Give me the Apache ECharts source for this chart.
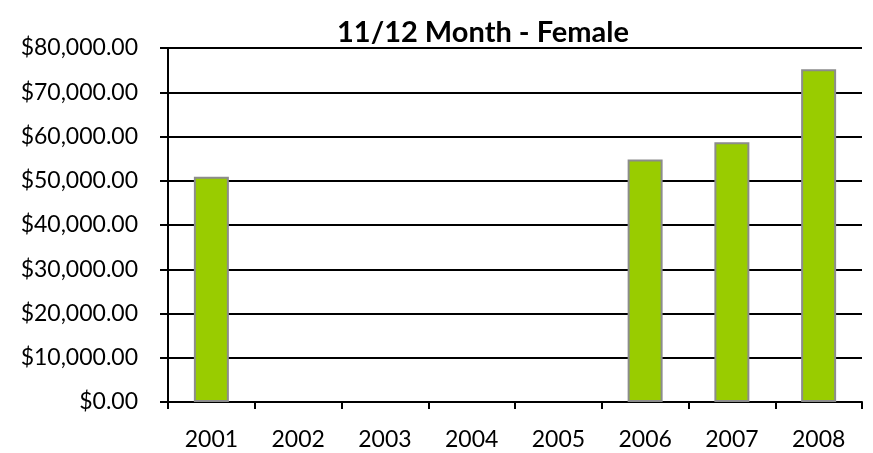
<!DOCTYPE html>
<html>
<head>
<meta charset="utf-8">
<script src="https://cdn.jsdelivr.net/npm/echarts@6/dist/echarts.min.js"></script>
<style>
  html, body { margin: 0; padding: 0; background: #fff; }
  #chart { width: 873px; height: 453px; }
</style>
</head>
<body>
<div id="chart"></div>
<script>
// values
var years = ['2001', '2002', '2003', '2004', '2005', '2006', '2007', '2008'];
var salaries = [50900, null, null, null, null, 54800, 58700, 75200];
var yMax = 80000;
var yStep = 10000;

var fontFamily = 'Lato, "Open Sans", sans-serif';

function money(v) {
	return '$' + v.toLocaleString('en-US', {minimumFractionDigits: 2, maximumFractionDigits: 2});
}

var chart = echarts.init(document.getElementById('chart'));
var option = {
	animation: false,
	title: {
		text: '11/12 Month - Female',
		left: 478,
		textAlign: 'center',
		top: 13,
		textStyle: {
			fontFamily: fontFamily,
			fontSize: 29,
			fontWeight: 'bold',
			color: '#000'
		}
	},
	grid: {
		left: 168,
		right: 11,
		top: 48,
		bottom: 51
	},
	xAxis: {
		type: 'category',
		data: years,
		axisLine: {lineStyle: {color: '#000', width: 2}},
		axisTick: {show: true, length: 7, lineStyle: {color: '#000', width: 2}},
		axisLabel: {
			margin: 26,
			fontFamily: fontFamily,
			fontSize: 23,
			color: '#000'
		}
	},
	yAxis: {
		type: 'value',
		min: 0,
		max: yMax,
		interval: yStep,
		axisLine: {show: true, lineStyle: {color: '#000', width: 2}},
		axisTick: {show: true, length: 8, lineStyle: {color: '#000', width: 2}},
		splitLine: {lineStyle: {color: '#000', width: 2}},
		axisLabel: {
			margin: 30,
			fontFamily: fontFamily,
			fontSize: 23,
			color: '#000',
			formatter: money
		}
	},
	series: [{
		type: 'bar',
		data: salaries,
		barWidth: 35,
		itemStyle: {
			color: '#99cc00',
			borderColor: '#8c8c8c',
			borderWidth: 2
		}
	}]
};
chart.setOption(option);
</script>
</body>
</html>
